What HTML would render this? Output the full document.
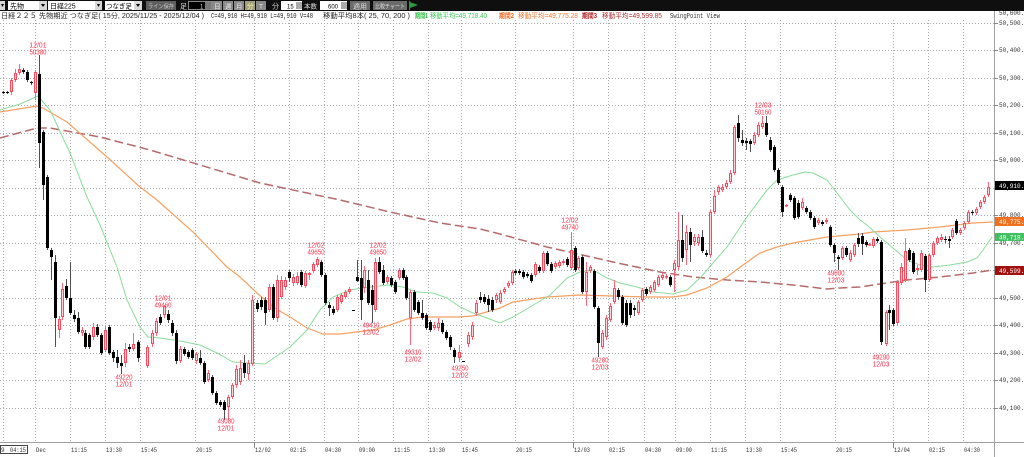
<!DOCTYPE html>
<html><head><meta charset="utf-8">
<style>
html,body{margin:0;padding:0;background:#fff;}
body{width:1024px;height:457px;overflow:hidden;}
svg{display:block;}
text{font-family:"Liberation Sans","Noto Sans CJK JP",sans-serif;}
.m{font-family:"Liberation Mono","Noto Sans CJK JP",monospace;}
</style></head><body>
<svg width="1024" height="457" viewBox="0 0 1024 457" xmlns="http://www.w3.org/2000/svg">
<rect width="1024" height="457" fill="#fff"/>

<!-- toolbar -->
<rect x="0" y="0" width="1024" height="11" fill="#0f0f0f"/>
<rect x="0" y="1" width="5" height="9" fill="#d8d8d8"/><polygon points="1,4 4,4 2.5,7" fill="#000"/>
<rect x="8" y="1" width="31" height="9" fill="#fff"/><text x="10" y="8.5" font-size="7" fill="#000">先物</text>
<rect x="39" y="1" width="8" height="9" fill="#d8d8d8"/><polygon points="41,4 45,4 43,7" fill="#000"/>
<rect x="48" y="1" width="47" height="9" fill="#fff"/><text x="50" y="8.5" font-size="7" fill="#000">日経225</text>
<rect x="95" y="1" width="7" height="9" fill="#d8d8d8"/><polygon points="97,4 100,4 98.5,7" fill="#000"/>
<rect x="105" y="1" width="29" height="9" fill="#fff"/><text x="106" y="8.5" font-size="7" fill="#000" textLength="26" lengthAdjust="spacingAndGlyphs">つなぎ足</text>
<rect x="134" y="1" width="8" height="9" fill="#d8d8d8"/><polygon points="136,4 140,4 138,7" fill="#000"/>
<rect x="146" y="1" width="30" height="9" fill="#5e5e5e"/><text x="148" y="8.5" font-size="6" fill="#ccc" textLength="26" lengthAdjust="spacingAndGlyphs">ライン保存</text>
<text x="180" y="8.5" font-size="7" fill="#ddd">足</text>
<rect x="188.5" y="1.5" width="23" height="8" fill="#000" stroke="#888"/><text x="200" y="8.5" font-size="6" fill="#ccc">1</text><rect x="205" y="2" width="6" height="7" fill="#777"/>
<rect x="212" y="1" width="10" height="9" fill="#8a8a8a"/><text x="214" y="8.5" font-size="6.5" fill="#eee">日</text>
<rect x="223" y="1" width="10" height="9" fill="#8a8a8a"/><text x="225" y="8.5" font-size="6.5" fill="#eee">週</text>
<rect x="234" y="1" width="10" height="9" fill="#8a8a8a"/><text x="236" y="8.5" font-size="6.5" fill="#eee">月</text>
<rect x="245" y="1" width="10" height="9" fill="#a0a080"/><text x="247" y="8.5" font-size="6.5" fill="#ffff90">分</text>
<rect x="256" y="1" width="10" height="9" fill="#8a8a8a"/><text x="259" y="8.5" font-size="6.5" fill="#eee">T</text>
<text x="272" y="8.5" font-size="7" fill="#ddd">分</text>
<rect x="281" y="1" width="21" height="9" fill="#fff"/><text x="287" y="8.5" font-size="6" fill="#000">15</text><rect x="296" y="2" width="6" height="7" fill="#aaa"/>
<text x="304" y="8.5" font-size="6.5" fill="#ddd" textLength="13" lengthAdjust="spacingAndGlyphs">本数</text>
<rect x="320" y="1" width="27" height="9" fill="#fff"/><text x="328" y="8.5" font-size="6" fill="#000">600</text><rect x="341" y="2" width="6" height="7" fill="#aaa"/>
<rect x="350" y="1" width="20" height="9" fill="#6a6a6a"/><text x="353" y="8.5" font-size="6.5" fill="#ddd" textLength="14" lengthAdjust="spacingAndGlyphs">適用</text>
<rect x="373" y="1" width="34" height="9" fill="#6a6a6a"/><text x="375" y="8.5" font-size="6" fill="#ddd" textLength="30" lengthAdjust="spacingAndGlyphs">比較チャート</text>
<line x1="409.5" y1="1" x2="409.5" y2="10" stroke="#2a9a40"/><polygon points="410,2 418,5 410,8" fill="#2a9a40"/>

<!-- header text -->
<g font-size="7" fill="#222">
<text x="1" y="18" textLength="203" lengthAdjust="spacingAndGlyphs">日経２２５ 先物期近 つなぎ足( 15分, 2025/11/25 - 2025/12/04 )</text>
<text x="211" y="18" class="m" textLength="102" lengthAdjust="spacingAndGlyphs">C=49,910 H=49,910 L=49,910 V=48</text>
<text x="323" y="18" textLength="87" lengthAdjust="spacingAndGlyphs">移動平均8本( 25, 70, 200 )</text>
<text x="415" y="18" fill="#30c040" font-weight="bold" textLength="13" lengthAdjust="spacingAndGlyphs">期間1</text>
<text x="430" y="18" fill="#40c858" textLength="57" lengthAdjust="spacingAndGlyphs">移動平均=49,718.40</text>
<text x="499" y="18" fill="#f06a20" font-weight="bold" textLength="15" lengthAdjust="spacingAndGlyphs">期間2</text>
<text x="518" y="18" fill="#f07a30" textLength="60" lengthAdjust="spacingAndGlyphs">移動平均=49,775.28</text>
<text x="582" y="18" fill="#b02020" font-weight="bold" textLength="15" lengthAdjust="spacingAndGlyphs">期間3</text>
<text x="602" y="18" fill="#b03030" textLength="60" lengthAdjust="spacingAndGlyphs">移動平均=49,599.85</text>
<text x="670" y="18" class="m" fill="#333" textLength="50" lengthAdjust="spacingAndGlyphs">SwingPoint View</text>
</g>

<!-- grid -->
<g stroke="#a8a8a8" stroke-width="1" stroke-dasharray="1,2">
<line x1="0" y1="23.5" x2="994" y2="23.5"/>
<line x1="0" y1="50.5" x2="994" y2="50.5"/>
<line x1="0" y1="78.5" x2="994" y2="78.5"/>
<line x1="0" y1="105.5" x2="994" y2="105.5"/>
<line x1="0" y1="133.5" x2="994" y2="133.5"/>
<line x1="0" y1="160.5" x2="994" y2="160.5"/>
<line x1="0" y1="188.5" x2="994" y2="188.5"/>
<line x1="0" y1="215.5" x2="994" y2="215.5"/>
<line x1="0" y1="243.5" x2="994" y2="243.5"/>
<line x1="0" y1="270.5" x2="994" y2="270.5"/>
<line x1="0" y1="298.5" x2="994" y2="298.5"/>
<line x1="0" y1="325.5" x2="994" y2="325.5"/>
<line x1="0" y1="353.5" x2="994" y2="353.5"/>
<line x1="0" y1="380.5" x2="994" y2="380.5"/>
<line x1="0" y1="408.5" x2="994" y2="408.5"/>
<line x1="3.5" y1="20" x2="3.5" y2="442"/>
<line x1="35.5" y1="20" x2="35.5" y2="442"/>
<line x1="70.5" y1="20" x2="70.5" y2="442"/>
<line x1="105.5" y1="20" x2="105.5" y2="442"/>
<line x1="140.5" y1="20" x2="140.5" y2="442"/>
<line x1="195.5" y1="20" x2="195.5" y2="442"/>
<line x1="254.5" y1="20" x2="254.5" y2="442"/>
<line x1="289.5" y1="20" x2="289.5" y2="442"/>
<line x1="324.5" y1="20" x2="324.5" y2="442"/>
<line x1="358.5" y1="20" x2="358.5" y2="442"/>
<line x1="393.5" y1="20" x2="393.5" y2="442"/>
<line x1="428.5" y1="20" x2="428.5" y2="442"/>
<line x1="461.5" y1="20" x2="461.5" y2="442"/>
<line x1="515.5" y1="20" x2="515.5" y2="442"/>
<line x1="573.5" y1="20" x2="573.5" y2="442"/>
<line x1="608.5" y1="20" x2="608.5" y2="442"/>
<line x1="644.5" y1="20" x2="644.5" y2="442"/>
<line x1="675.5" y1="20" x2="675.5" y2="442"/>
<line x1="710.5" y1="20" x2="710.5" y2="442"/>
<line x1="745.5" y1="20" x2="745.5" y2="442"/>
<line x1="780.5" y1="20" x2="780.5" y2="442"/>
<line x1="835.5" y1="20" x2="835.5" y2="442"/>
<line x1="893.5" y1="20" x2="893.5" y2="442"/>
<line x1="928.5" y1="20" x2="928.5" y2="442"/>
<line x1="963.5" y1="20" x2="963.5" y2="442"/>
</g>

<!-- axes -->
<line x1="994.5" y1="11" x2="994.5" y2="457" stroke="#a0a0a0"/>
<line x1="0" y1="442.5" x2="1024" y2="442.5" stroke="#a0a0a0"/>
<g stroke="#888">
<line x1="254.5" y1="442" x2="254.5" y2="448"/>
<line x1="573.5" y1="442" x2="573.5" y2="448"/>
<line x1="893.5" y1="442" x2="893.5" y2="448"/>
</g>

<!-- MA lines -->
<polyline fill="none" stroke="#b86a6a" stroke-width="1.5" stroke-dasharray="9,4" points="0,138 37,128 50,128 100,137 150,150 200,165 260,183 340,200 390,212 440,223 480,229 500,234 547,247 613,262 660,272 693,277 727,280 760,282 793,285 827,289 840,288 860,287 873,285 907,280 940,277 973,273 993,270"/>
<polyline fill="none" stroke="#f5a060" stroke-width="1.2" points="0,112 37,106 43,108 67,122 107,157 140,187 157,200 193,232 227,267 240,277 257,293 273,307 290,317 307,328 323,334 340,334 373,330 390,325 407,319 423,317 457,317 473,316 500,308 513,302 547,297 580,295 613,296 647,297 673,297 687,295 707,288 727,277 743,265 760,253 777,247 793,243 810,240 827,237 860,234 873,232 907,230 940,227 973,223 993,222"/>
<polyline fill="none" stroke="#8adc9a" stroke-width="1" points="0,110 20,104 38,96 50,110 70,153 87,197 100,225 117,267 127,300 140,327 148,337 160,338 180,341 200,345 217,353 233,362 247,363 265,364 290,347 307,330 320,310 333,297 350,290 363,288 387,285 403,287 417,292 433,293 447,298 460,307 473,313 487,318 500,323 513,317 530,307 550,295 567,278 580,272 593,270 607,278 620,283 637,287 653,292 673,294 687,290 700,278 713,263 727,247 747,217 767,190 777,180 793,175 805,172 813,173 827,180 837,193 850,210 860,220 867,225 880,237 893,248 907,260 920,265 933,267 950,265 967,262 977,258 983,250 992,237"/>

<!-- candles -->
<g id="cd"></g>

<!-- swing labels -->
<g font-size="7" fill="#ff3048" text-anchor="middle">
<text x="38" y="47.5" textLength="17" lengthAdjust="spacingAndGlyphs">12/01</text><text x="38" y="54.5" textLength="17" lengthAdjust="spacingAndGlyphs">50380</text>
<text x="163" y="300.5" textLength="17" lengthAdjust="spacingAndGlyphs">12/01</text><text x="163" y="307.5" textLength="17" lengthAdjust="spacingAndGlyphs">49460</text>
<text x="124" y="379.5" textLength="17" lengthAdjust="spacingAndGlyphs">49220</text><text x="124" y="386.5" textLength="17" lengthAdjust="spacingAndGlyphs">12/01</text>
<text x="226" y="423.5" textLength="17" lengthAdjust="spacingAndGlyphs">49080</text><text x="226" y="430.5" textLength="17" lengthAdjust="spacingAndGlyphs">12/01</text>
<text x="316" y="247.5" textLength="17" lengthAdjust="spacingAndGlyphs">12/02</text><text x="316" y="254.5" textLength="17" lengthAdjust="spacingAndGlyphs">49650</text>
<text x="378" y="247.5" textLength="17" lengthAdjust="spacingAndGlyphs">12/02</text><text x="378" y="254.5" textLength="17" lengthAdjust="spacingAndGlyphs">49650</text>
<text x="371" y="327.5" textLength="17" lengthAdjust="spacingAndGlyphs">49410</text><text x="371" y="334.5" textLength="17" lengthAdjust="spacingAndGlyphs">12/02</text>
<text x="413" y="354.5" textLength="17" lengthAdjust="spacingAndGlyphs">49310</text><text x="413" y="361.5" textLength="17" lengthAdjust="spacingAndGlyphs">12/02</text>
<text x="460" y="370.5" textLength="17" lengthAdjust="spacingAndGlyphs">49250</text><text x="460" y="377.5" textLength="17" lengthAdjust="spacingAndGlyphs">12/02</text>
<text x="570" y="222.5" textLength="17" lengthAdjust="spacingAndGlyphs">12/02</text><text x="570" y="229.5" textLength="17" lengthAdjust="spacingAndGlyphs">49740</text>
<text x="600" y="362.5" textLength="17" lengthAdjust="spacingAndGlyphs">49280</text><text x="600" y="369.5" textLength="17" lengthAdjust="spacingAndGlyphs">12/03</text>
<text x="763" y="107.5" textLength="17" lengthAdjust="spacingAndGlyphs">12/03</text><text x="763" y="114.5" textLength="17" lengthAdjust="spacingAndGlyphs">50160</text>
<text x="836" y="275.5" textLength="17" lengthAdjust="spacingAndGlyphs">49600</text><text x="836" y="282.5" textLength="17" lengthAdjust="spacingAndGlyphs">12/03</text>
<text x="881" y="359.5" textLength="17" lengthAdjust="spacingAndGlyphs">49290</text><text x="881" y="366.5" textLength="17" lengthAdjust="spacingAndGlyphs">12/03</text>
</g>

<!-- right axis labels -->
<g class="m" font-size="6" fill="#333">
<text x="999" y="15" class="m">50,600.00</text>
<text x="999" y="25" class="m">50,500.00</text>
<text x="999" y="52" class="m">50,400.00</text>
<text x="999" y="80" class="m">50,300.00</text>
<text x="999" y="107" class="m">50,200.00</text>
<text x="999" y="135" class="m">50,100.00</text>
<text x="999" y="162" class="m">50,000.00</text>
<text x="999" y="190" class="m">49,900.00</text>
<text x="999" y="217" class="m">49,800.00</text>
<text x="999" y="245" class="m">49,700.00</text>
<text x="999" y="272" class="m">49,600.00</text>
<text x="999" y="300" class="m">49,500.00</text>
<text x="999" y="327" class="m">49,400.00</text>
<text x="999" y="355" class="m">49,300.00</text>
<text x="999" y="382" class="m">49,200.00</text>
<text x="999" y="410" class="m">49,100.00</text>
</g>
<g stroke="#888">
<line x1="994" y1="23.5" x2="998" y2="23.5"/><line x1="994" y1="50.5" x2="998" y2="50.5"/><line x1="994" y1="78.5" x2="998" y2="78.5"/><line x1="994" y1="105.5" x2="998" y2="105.5"/><line x1="994" y1="133.5" x2="998" y2="133.5"/><line x1="994" y1="160.5" x2="998" y2="160.5"/><line x1="994" y1="188.5" x2="998" y2="188.5"/><line x1="994" y1="215.5" x2="998" y2="215.5"/><line x1="994" y1="243.5" x2="998" y2="243.5"/><line x1="994" y1="270.5" x2="998" y2="270.5"/><line x1="994" y1="298.5" x2="998" y2="298.5"/><line x1="994" y1="325.5" x2="998" y2="325.5"/><line x1="994" y1="353.5" x2="998" y2="353.5"/><line x1="994" y1="380.5" x2="998" y2="380.5"/><line x1="994" y1="408.5" x2="998" y2="408.5"/>
</g>

<!-- price boxes -->
<rect x="995" y="181" width="29" height="9" fill="#000"/><text x="999" y="188" class="m" font-size="6" fill="#fff">49,910.00</text>
<rect x="995" y="217" width="29" height="9" fill="#f07020"/><text x="999" y="224" class="m" font-size="6" fill="#fff">49,775.28</text>
<rect x="995" y="233" width="29" height="8" fill="#40c060"/><text x="999" y="239.5" class="m" font-size="6" fill="#fff">49,718.40</text>
<rect x="995" y="266" width="29" height="9" fill="#a01010"/><text x="999" y="273" class="m" font-size="6" fill="#fff">49,599.85</text>

<!-- x axis labels -->
<rect x="0.5" y="445.5" width="27" height="8" fill="none" stroke="#444"/>
<g class="m" font-size="6" fill="#333">
<text x="1" y="452" class="m">9</text>
<text x="10" y="452" class="m" textLength="16" lengthAdjust="spacingAndGlyphs">04:15</text>
<text x="36" y="452" class="m" textLength="10" lengthAdjust="spacingAndGlyphs">Dec</text>
<text x="71" y="452" class="m" textLength="16" lengthAdjust="spacingAndGlyphs">11:15</text>
<text x="106" y="452" class="m" textLength="16" lengthAdjust="spacingAndGlyphs">13:30</text>
<text x="141" y="452" class="m" textLength="16" lengthAdjust="spacingAndGlyphs">15:45</text>
<text x="196" y="452" class="m" textLength="16" lengthAdjust="spacingAndGlyphs">20:15</text>
<text x="255" y="452" class="m" textLength="16" lengthAdjust="spacingAndGlyphs">12/02</text>
<text x="290" y="452" class="m" textLength="16" lengthAdjust="spacingAndGlyphs">02:15</text>
<text x="325" y="452" class="m" textLength="16" lengthAdjust="spacingAndGlyphs">04:30</text>
<text x="359" y="452" class="m" textLength="16" lengthAdjust="spacingAndGlyphs">09:00</text>
<text x="394" y="452" class="m" textLength="16" lengthAdjust="spacingAndGlyphs">11:15</text>
<text x="429" y="452" class="m" textLength="16" lengthAdjust="spacingAndGlyphs">13:30</text>
<text x="462" y="452" class="m" textLength="16" lengthAdjust="spacingAndGlyphs">15:45</text>
<text x="516" y="452" class="m" textLength="16" lengthAdjust="spacingAndGlyphs">20:15</text>
<text x="574" y="452" class="m" textLength="16" lengthAdjust="spacingAndGlyphs">12/03</text>
<text x="609" y="452" class="m" textLength="16" lengthAdjust="spacingAndGlyphs">02:15</text>
<text x="645" y="452" class="m" textLength="16" lengthAdjust="spacingAndGlyphs">04:30</text>
<text x="676" y="452" class="m" textLength="16" lengthAdjust="spacingAndGlyphs">09:00</text>
<text x="711" y="452" class="m" textLength="16" lengthAdjust="spacingAndGlyphs">11:15</text>
<text x="746" y="452" class="m" textLength="16" lengthAdjust="spacingAndGlyphs">13:30</text>
<text x="781" y="452" class="m" textLength="16" lengthAdjust="spacingAndGlyphs">15:45</text>
<text x="836" y="452" class="m" textLength="16" lengthAdjust="spacingAndGlyphs">20:15</text>
<text x="894" y="452" class="m" textLength="16" lengthAdjust="spacingAndGlyphs">12/04</text>
<text x="929" y="452" class="m" textLength="16" lengthAdjust="spacingAndGlyphs">02:15</text>
<text x="964" y="452" class="m" textLength="16" lengthAdjust="spacingAndGlyphs">04:30</text>
</g>
</svg>
<script>
var D=[
[3,92,93,0,91,94],[7,92,93,0,91,94],[11,80,92,1,78,95],[15,73,80,1,69,82],[19,69,73,1,64,75],[23,70,72,0,68,74],[27,72,80,0,70,82],[31,82,83,0,81,85],[35,72,93,1,70,100],[39,74,143,0,55,168],[43,132,185,0,130,200],[47,177,248,0,175,250],[51,250,257,0,248,280],[55,262,318,0,255,347],[59,319,330,1,316,338],[62,289,317,1,283,320],[66,286,298,0,279,300],[70,298,313,0,262,315],[74,315,319,0,310,322],[78,318,332,0,312,334],[82,330,333,1,327,336],[85,333,347,0,330,349],[89,335,347,0,333,349],[93,327,337,1,323,340],[97,327,335,0,324,337],[101,335,353,0,333,355],[105,330,350,1,326,352],[109,327,353,0,325,355],[113,352,358,0,350,362],[117,357,363,0,350,368],[121,363,366,0,355,374],[125,349,363,1,343,367],[129,347,349,0,344,352],[133,344,349,1,333,351],[138,342,358,0,340,362],[147,347,366,1,345,368],[152,333,344,1,330,347],[156,321,333,1,318,336],[160,317,323,0,314,325],[164,306,315,1,305,318],[168,314,320,0,310,323],[172,323,333,0,320,336],[176,333,361,0,330,364],[180,349,361,1,346,363],[184,349,354,0,347,356],[188,352,357,0,350,359],[192,350,358,0,348,360],[196,354,361,1,352,364],[200,358,363,0,350,365],[204,363,382,0,361,384],[208,373,380,1,370,382],[212,377,393,0,375,395],[216,393,403,0,391,405],[220,402,405,0,400,407],[224,402,410,0,400,420],[228,397,407,1,395,420],[232,385,397,1,383,399],[236,369,385,1,365,388],[240,368,382,1,360,385],[244,363,373,0,355,378],[248,363,374,1,360,380],[252,300,364,1,295,366],[257,303,309,0,300,312],[261,300,307,0,297,310],[265,300,313,0,297,325],[269,287,310,1,284,312],[273,287,318,0,284,320],[277,280,318,1,275,322],[281,280,297,1,276,299],[285,280,287,1,277,290],[289,272,278,0,270,282],[293,277,283,1,274,286],[297,276,283,1,272,285],[301,272,285,0,270,287],[305,273,286,1,271,288],[309,273,275,1,272,280],[313,264,271,1,262,273],[317,259,265,1,257,267],[321,262,275,0,260,277],[325,275,303,0,273,305],[329,305,308,0,302,316],[333,309,313,0,306,315],[337,297,310,1,295,312],[341,295,302,1,293,304],[345,292,297,1,290,299],[349,289,292,1,287,294],[353,310,311,0,310,311],[357,277,281,0,260,282],[361,278,300,0,260,320],[364,270,288,1,266,293],[368,280,303,0,270,305],[372,290,305,0,285,323],[375,262,310,1,258,312],[379,262,272,0,257,274],[383,270,283,0,265,285],[387,277,282,1,275,284],[391,278,285,0,276,287],[395,282,292,0,280,294],[399,270,278,1,268,280],[403,270,278,0,268,280],[406,277,298,0,275,300],[410,292,318,1,290,345],[414,292,310,0,290,312],[418,302,313,0,300,315],[422,313,318,0,300,320],[426,315,328,0,313,330],[430,322,330,0,320,332],[434,325,328,1,322,330],[438,323,328,1,318,331],[442,323,332,0,320,334],[446,332,338,0,330,340],[450,337,347,0,335,350],[454,350,357,0,348,363],[459,352,358,1,345,362],[463,361,362,0,361,362],[468,335,344,1,332,347],[472,325,337,1,322,340],[476,303,313,1,300,316],[480,297,300,0,292,303],[484,297,302,0,294,304],[488,299,305,0,295,312],[492,300,310,0,297,312],[496,295,300,1,293,303],[500,293,302,1,290,304],[504,289,292,1,287,294],[508,283,286,1,281,288],[512,272,283,1,270,285],[515,271,273,0,269,275],[519,271,273,0,269,275],[523,272,277,0,270,279],[527,274,276,0,272,278],[531,275,281,0,273,283],[535,264,275,1,262,277],[539,267,271,0,265,273],[543,253,271,1,251,273],[547,253,264,0,251,266],[551,264,271,0,262,273],[555,263,267,1,261,269],[559,262,266,1,260,268],[563,261,263,1,259,265],[567,259,265,0,257,267],[571,250,268,1,232,270],[575,248,270,0,246,272],[578,258,268,1,256,270],[582,257,292,0,255,294],[586,272,292,1,262,306],[590,267,271,1,265,273],[594,271,307,0,269,309],[598,308,343,0,306,357],[602,333,347,1,330,349],[606,318,337,1,315,340],[610,306,320,1,303,322],[614,288,302,1,280,304],[618,290,297,0,288,300],[622,297,323,0,295,325],[626,303,325,0,300,327],[630,303,315,0,300,318],[634,308,310,0,305,316],[638,302,313,1,300,315],[642,290,300,1,288,302],[646,289,294,0,287,296],[650,287,292,1,285,294],[654,282,290,1,280,292],[658,277,285,1,275,287],[662,275,278,1,273,280],[666,276,277,1,274,279],[670,277,285,0,275,287],[674,263,270,1,260,292],[678,240,267,1,212,270],[682,240,258,0,215,262],[686,232,250,1,225,265],[690,232,245,0,228,262],[694,237,242,1,234,246],[698,237,243,1,234,246],[702,237,251,0,230,253],[706,253,255,0,250,257],[710,212,255,1,210,257],[714,196,212,1,190,214],[718,187,192,1,185,195],[722,187,190,1,184,192],[726,183,187,1,180,189],[730,173,182,1,170,184],[734,127,173,1,125,175],[738,123,138,0,115,142],[742,140,143,0,130,146],[746,141,143,0,138,150],[750,141,144,0,139,152],[754,135,143,1,132,145],[758,125,135,1,122,137],[762,123,127,1,116,129],[766,123,135,0,116,137],[770,140,150,0,137,152],[774,147,170,0,145,172],[778,170,183,0,168,185],[782,187,212,0,185,217],[786,205,206,1,204,207],[790,195,200,0,193,202],[794,198,218,0,196,220],[798,203,217,0,200,219],[802,202,208,1,198,210],[806,208,212,0,206,214],[810,212,218,0,210,220],[814,218,227,0,216,229],[818,220,223,1,218,225],[822,222,224,0,220,226],[826,220,222,1,218,224],[830,227,245,0,225,247],[834,245,253,0,243,262],[838,257,259,0,255,270],[842,248,258,1,246,260],[846,248,255,0,246,257],[850,253,260,1,250,262],[854,245,255,1,243,257],[858,238,244,0,233,247],[862,236,244,0,233,255],[866,242,245,0,240,247],[869,244,245,1,243,246],[873,239,246,1,237,248],[877,239,241,0,237,243],[881,242,342,0,240,345],[886,312,344,1,310,346],[889,310,313,0,305,330],[893,310,324,0,308,326],[897,282,323,1,280,325],[901,267,283,1,263,285],[905,251,280,1,238,282],[909,250,260,0,248,262],[913,253,272,0,251,274],[917,268,270,1,265,275],[921,253,270,1,250,272],[925,256,280,0,254,292],[929,255,280,1,253,282],[933,243,255,1,241,257],[937,238,243,1,236,245],[941,237,240,1,234,242],[945,239,240,0,236,243],[949,239,241,0,236,248],[952,230,237,1,228,239],[956,221,233,0,219,235],[960,230,233,1,228,235],[964,223,228,1,221,230],[968,212,222,1,210,224],[972,212,213,0,210,215],[976,209,213,1,207,215],[980,202,207,1,200,209],[984,197,202,1,195,204],[988,187,195,1,182,197]
];
var h='';
for(var i=0;i<D.length;i++){
  var d=D[i],x=d[0],t=d[1],b=d[2],c=d[3],wt=d[4],wb=d[5];
  if(c){
    h+='<line x1="'+(x+0.5)+'" y1="'+wt+'" x2="'+(x+0.5)+'" y2="'+wb+'" stroke="#ff6878" stroke-width="1"/>';
    var hh=Math.max(b-t-1,0.5);
    h+='<rect x="'+(x-0.5)+'" y="'+(t+0.5)+'" width="2" height="'+hh+'" fill="#ffd2da" stroke="#ff4a5c" stroke-width="1"/>';
  }else{
    h+='<line x1="'+(x+0.5)+'" y1="'+wt+'" x2="'+(x+0.5)+'" y2="'+wb+'" stroke="#505050" stroke-width="1"/>';
    h+='<rect x="'+(x-1)+'" y="'+t+'" width="3" height="'+Math.max(b-t,1)+'" fill="#000"/>';
  }
}
document.getElementById('cd').innerHTML=h;
</script>
</body></html>
